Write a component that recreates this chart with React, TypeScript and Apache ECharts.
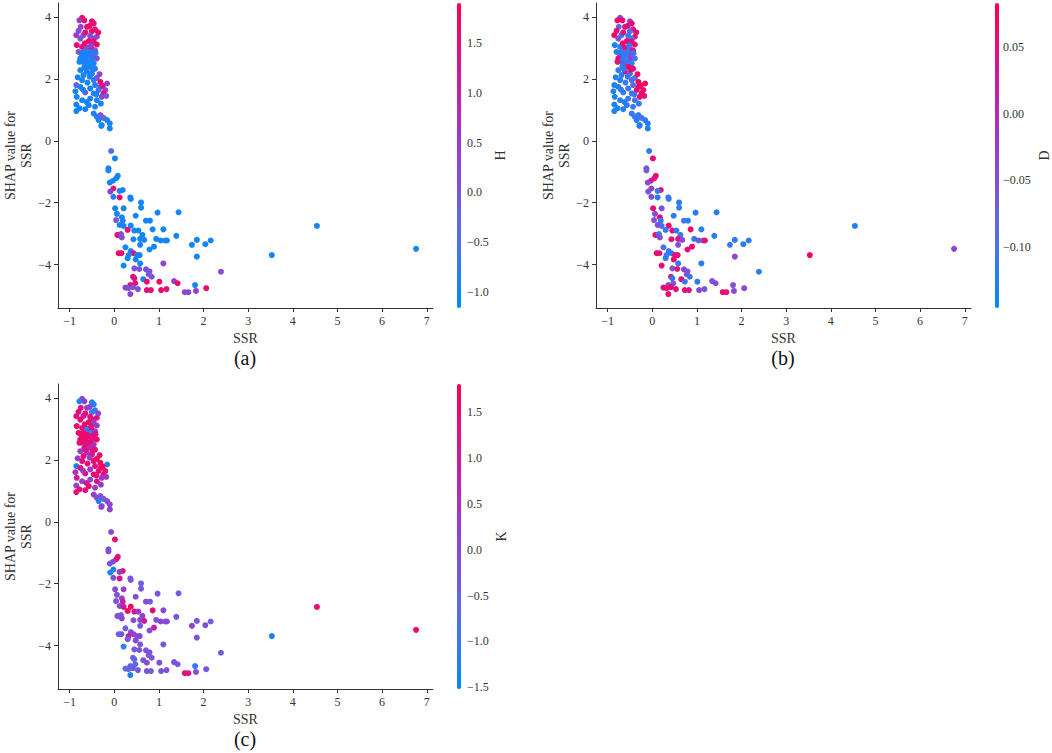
import React, { useEffect, useRef } from "react";
import * as echarts from "echarts";

// ---------- data ----------
const ssrValues: number[] = [
  -0.72, -0.67, -0.78, -0.5, -0.46, -0.55, -0.75, -0.61, -0.43, -0.5,
  -0.85, -0.69, -0.54, -0.39, -0.76, -0.46, -0.57, -0.46, -0.39, -0.84,
  -0.72, -0.61, -0.5, -0.8, -0.69, -0.54, -0.43, -0.72, -0.57, -0.46,
  -0.76, -0.65, -0.5, -0.39, -0.7, -0.61, -0.46, -0.67, -0.54, -0.43,
  -0.76, -0.61, -0.5, -0.69, -0.55, -0.39, -0.72, -0.46, -0.31, -0.85,
  -0.76, -0.43, -0.31, -0.16, -0.54, -0.35, -0.2, -0.87, -0.65, -0.46,
  -0.24, -0.84, -0.28, -0.18, -0.72, -0.54, -0.39, -0.85, -0.57, -0.43,
  -0.85, -0.65, -0.46, -0.39, -0.31, -0.24, -0.35, -0.16, -0.28, -0.1,
  -0.1, -0.29,
  -0.8, -0.65, -0.36, -0.66, -0.52, -0.42, -0.63, -0.78, -0.56, -0.64,
  -0.48, -0.33, -0.82, -0.6, -0.26, -0.7, -0.4, -0.62, -0.3, -0.78,
  -0.07, 0.015, -0.13, -0.13, 0.08, 0.045, -0.03, -0.1, -0.02, -0.09,
  0.19, 0.12, -0.02, 0.12, 0.36, 0.37, 0.6, 0.6, 0.02, 0.21,
  0.97, 1.44, 0.06, 0.17, 0.04, 0.19, 0.48, 0.71, 0.8, 0.12,
  0.21, 0.37, 0.86, 1.1, 0.3, 0.45, 0.54, 0.07, 0.1, 0.15,
  0.17, 0.63, 1.39, 0.43, 0.58, 0.67, 0.94, 1.04, 1.14, 1.18,
  1.85, 2.04, 2.16, 1.74, 0.58, 0.89, 0.25, 0.79, 0.1, 0.16,
  0.37, 0.43, 0.32, 0.51, 0.57, 1.85, 0.3, 0.48, 0.58, 0.21,
  1.1, 0.45, 0.56, 0.71, 0.79, 2.39, 0.77, 0.84, 0.42, 0.45,
  0.65, 0.73, 1.01, 1.34, 1.42, 1.81, 0.47, 0.36, 0.42, 0.25,
  0.32, 0.53, 0.73, 0.82, 1.05, 1.17, 2.06, 1.58, 1.66, 1.83,
  0.36,
  3.53, 4.54, 6.76,
];

const shapValues: number[] = [
  3.97, 3.89, 3.89, 3.86, 3.79, 3.71, 3.68, 3.68, 3.6, 3.54,
  3.41, 3.41, 3.39, 3.36, 3.3, 3.3, 3.22, 3.2, 3.11, 3.09,
  3.03, 3.0, 2.98, 2.87, 2.87, 2.87, 2.92, 2.76, 2.76, 2.78,
  2.66, 2.66, 2.64, 2.66, 2.55, 2.5, 2.5, 2.39, 2.39, 2.33,
  2.28, 2.23, 2.17, 2.12, 2.07, 2.03, 1.96, 1.96, 1.9, 1.8,
  1.74, 1.8, 1.74, 1.85, 1.69, 1.64, 1.64, 1.6, 1.56, 1.53,
  1.53, 1.42, 1.42, 1.45, 1.31, 1.36, 1.31, 1.17, 1.15, 1.1,
  0.96, 1.02, 0.88, 0.78, 0.83, 0.74, 0.67, 0.67, 0.51, 0.56,
  0.4, 0.48,
  3.55, 3.5, 3.5, 3.15, 3.08, 2.83, 2.82, 2.55, 2.57, 2.32,
  2.3, 2.15, 2.05, 1.88, 1.78, 1.65, 1.5, 1.25, 1.2, 1.05,
  -0.33, -0.57, -0.89, -0.96, -1.13, -1.21, -1.29, -1.35, -1.54, -1.64,
  -1.59, -1.62, -1.81, -1.83, -1.83, -1.88, -1.99, -2.16, -2.18, -2.18,
  -2.32, -2.31, -2.36, -2.47, -2.56, -2.58, -2.42, -2.58, -2.58, -2.72,
  -2.75, -2.74, -2.86, -2.86, -2.88, -2.9, -2.9, -3.04, -3.04, -3.01,
  -3.12, -3.04, -3.07, -3.18, -3.17, -3.2, -3.17, -3.22, -3.22, -3.22,
  -3.2, -3.34, -3.22, -3.36, -3.36, -3.42, -3.44, -3.51, -3.63, -3.63,
  -3.56, -3.63, -3.69, -3.69, -3.69, -3.74, -3.79, -3.83, -3.96, -4.03,
  -3.96, -4.12, -4.14, -4.15, -4.22, -4.23, -4.31, -4.39, -4.39, -4.44,
  -4.47, -4.55, -4.55, -4.53, -4.6, -4.66, -4.6, -4.66, -4.73, -4.74,
  -4.76, -4.79, -4.82, -4.82, -4.82, -4.79, -4.76, -4.89, -4.89, -4.85,
  -4.95,
  -3.69, -2.75, -3.49,
];

const hValues: number[] = [
  1.8, 1.6, 0.6, 1.7, 1.5, 1.8, 0.4, 1.6, 1.4, 1.7,
  0.5, 0.2, 0.3, 0.4, 0.1, 0.3, 1.7, 1.5, 1.8, 1.6,
  1.4, 0.2, 1.6, 0.0, -0.9, -1.0, 0.1, -1.0, -0.8, 0.0,
  -1.0, -0.9, -1.0, 0.2, -1.0, -0.8, -1.0, -0.9, -1.0, -0.8,
  -1.0, -1.0, -0.9, -1.0, -0.9, 0.2, -1.0, -0.8, 1.6, -0.1,
  -1.0, -0.9, 0.4, 0.3, -1.0, -0.7, 0.5, -1.0, 0.0, -0.9,
  1.5, -1.0, 0.3, 0.1, -1.0, -0.9, -1.0, -1.0, -0.9, -1.0,
  -1.0, -1.0, -0.9, -1.0, 0.0, -0.1, -1.0, -0.9, -1.0, -1.0,
  -1.0, -1.0,
  0.3, 1.5, 1.6, 1.6, 0.4, -0.9, -1.0, -1.0, -1.0, -1.0,
  -0.9, 0.3, -1.0, -1.0, 1.4, -1.0, -1.0, -1.0, -0.9, -1.0,
  -0.5, -1.0, -1.0, -0.9, -1.0, -1.0, -1.0, -1.0, 1.6, 0.3,
  -1.0, -1.0, -0.9, 1.5, -1.0, -1.0, -1.0, -1.0, -1.0, -0.9,
  -1.0, -1.0, -1.0, -0.9, 0.0, -1.0, -1.0, -1.0, -1.0, -1.0,
  -1.0, -1.0, -1.0, -1.0, 1.6, -1.0, -1.0, 1.7, 1.5, 0.3,
  0.2, -1.0, -1.0, -1.0, -1.0, -0.9, -1.0, -1.0, -1.0, -1.0,
  -1.0, -1.0, -1.0, -1.0, -1.0, -1.0, -1.0, -1.0, 1.7, 1.6,
  -1.0, 1.5, -1.0, -1.0, -1.0, -1.0, -1.0, -1.0, -1.0, -1.0,
  0.3, 0.2, 0.0, 0.1, 0.2, 0.3, 0.0, 0.1, 1.6, 1.5,
  -0.9, 1.6, 1.7, 0.4, 1.6, -1.0, 1.5, 1.7, 0.2, 0.3,
  0.1, 0.2, 1.6, 1.5, 1.7, 1.5, 1.6, 0.3, 0.2, 0.4,
  0.3,
  -1.0, -1.0, -1.0,
];

const dValues: number[] = [
  -0.04, 0.06, 0.07, -0.03, 0.06, 0.05, -0.07, 0.05, 0.06, -0.1,
  0.07, -0.12, -0.11, 0.05, -0.05, -0.1, 0.06, 0.05, 0.07, -0.13,
  -0.12, 0.05, -0.11, -0.12, -0.1, -0.11, 0.04, -0.12, -0.1, -0.04,
  0.06, -0.11, -0.03, -0.1, -0.12, -0.05, -0.11, -0.12, 0.07, 0.06,
  -0.12, 0.05, -0.1, -0.12, -0.11, -0.09, -0.12, -0.1, 0.07, -0.13,
  -0.12, -0.1, 0.06, 0.08, -0.11, 0.07, 0.06, -0.13, -0.11, -0.1,
  0.07, -0.13, 0.06, 0.05, -0.12, -0.11, -0.1, -0.13, -0.12, -0.11,
  -0.13, -0.12, -0.11, -0.12, -0.11, -0.1, -0.12, -0.12, -0.12, -0.12,
  -0.13, -0.12,
  0.06, 0.05, 0.06, 0.06, -0.1, -0.11, -0.12, 0.05, -0.11, -0.12,
  0.06, 0.07, -0.12, -0.11, 0.07, -0.12, -0.11, -0.12, -0.11, -0.13,
  -0.12, 0.06, -0.05, -0.07, 0.06, 0.05, 0.04, -0.04, -0.03, -0.05,
  0.06, -0.11, -0.05, -0.12, -0.12, -0.11, -0.12, -0.11, 0.06, -0.05,
  -0.12, -0.12, -0.04, 0.06, -0.05, -0.11, -0.12, -0.11, -0.12, -0.04,
  -0.1, 0.06, 0.07, -0.12, -0.11, 0.06, -0.12, 0.06, 0.05, -0.11,
  -0.05, -0.11, -0.12, 0.06, 0.05, -0.04, -0.12, -0.05, -0.05, 0.05,
  -0.12, -0.12, -0.12, -0.11, -0.05, 0.06, -0.1, 0.06, 0.06, 0.05,
  -0.11, -0.12, -0.11, 0.06, 0.05, -0.04, -0.12, 0.06, -0.11, 0.06,
  -0.12, -0.05, 0.05, -0.04, -0.05, -0.12, -0.05, -0.11, 0.06, -0.12,
  0.05, -0.11, -0.12, -0.05, -0.04, -0.05, -0.05, -0.04, 0.06, 0.05,
  0.06, 0.05, 0.06, 0.05, -0.04, -0.05, -0.04, 0.06, 0.05, -0.04,
  0.06,
  0.07, -0.12, -0.03,
];

const kValues: number[] = [
  0.1, 0.3, -1.3, -1.2, -1.2, 0.0, 1.2, 0.2, -1.1, -1.0,
  1.4, 0.9, 1.3, 1.5, 1.4, 1.2, 1.5, 0.2, 0.3, 1.5,
  1.3, -1.2, 1.4, 1.6, 1.5, -1.1, 0.4, 1.6, 1.4, 1.2,
  1.6, 1.5, 1.1, 1.6, 1.4, 1.2, 0.5, 1.3, 0.6, 1.5,
  0.3, 0.2, 1.4, 1.5, 0.2, 1.5, 1.3, 1.6, 1.7, -1.3,
  1.5, 1.4, 1.2, -1.2, 0.3, 1.5, 1.6, 0.4, 1.3, 1.5,
  1.4, 1.1, 0.5, 0.3, 0.2, 0.0, 1.2, 0.1, 1.4, 0.3,
  1.5, 1.3, 0.2, 0.1, -0.1, -0.4, -1.1, 0.0, -1.0, 0.1,
  0.2, 0.3,
  1.4, 1.3, 0.2, 1.6, 1.5, 1.3, 1.6, 1.4, 1.5, 1.2,
  1.4, 1.6, 0.2, 1.5, 1.7, 0.4, 1.3, 1.2, 0.3, 1.4,
  0.0, 1.4, -0.2, -0.1, 1.5, 1.3, 0.1, -0.2, -1.3, -1.2,
  1.4, 0.2, -0.1, 1.2, -0.3, -0.2, -0.4, -0.3, 0.0, 0.2,
  -0.2, -0.4, -0.1, 0.1, -0.2, 0.9, -0.1, 0.0, -0.3, -0.2,
  1.2, 1.5, 1.4, 0.1, 1.6, 1.3, 0.3, 0.0, -0.2, -0.3,
  0.1, 0.2, -0.2, -0.1, 0.0, 1.0, -0.3, 0.1, -0.2, 0.0,
  -0.3, -0.1, -0.4, 0.2, -0.3, 0.9, -0.4, 0.0, -0.5, -0.4,
  -0.2, 0.3, 1.0, -0.1, 0.1, -0.2, -0.3, 0.0, -0.2, -1.0,
  -0.3, -0.4, -0.2, -0.1, 0.0, -0.3, -0.3, -0.2, -0.4, -0.5,
  -0.3, -0.1, 0.0, -0.2, -0.3, -1.1, -0.6, -0.5, -0.4, -0.6,
  -0.5, -0.3, -0.2, -0.4, -0.3, -0.1, -0.2, 1.4, 1.2, 0.0,
  -1.2,
  -1.3, 1.5, 1.6,
];

const xTicks: number[] = [-1, 0, 1, 2, 3, 4, 5, 6, 7];
const yTicks: number[] = [-4, -2, 0, 2, 4];
const hTicks: number[] = [-1, -0.5, 0, 0.5, 1, 1.5];
const dTicks: number[] = [-0.1, -0.05, 0, 0.05];
const kTicks: number[] = [-1.5, -1, -0.5, 0, 0.5, 1, 1.5];

const panelLabels: string[] = ["(a)", "(b)", "(c)"];
const featureNames: string[] = ["H", "D", "K"];
const colorRanges: [number, number][] = [
  [-1.16, 1.9],
  [-0.146, 0.083],
  [-1.52, 1.81],
];
const colorTicks: number[][] = [hTicks, dTicks, kTicks];
const colorDecimals: number[] = [1, 2, 1];
const colorValues: number[][] = [hValues, dValues, kValues];

// ---------- layout ----------
const FONT = "'Liberation Serif', 'Times New Roman', serif";
const AXIS = "#333333";
const panelPos = [
  { left: 58, top: 3 },
  { left: 596, top: 3 },
  { left: 58, top: 384 },
];
const PW = 375;
const PH = 305;
const CB_OFFSET = 399; // colorbar left relative to panel left
const CB_W = 4;
const cbNameGap = [32, 40, 33];
const COLORS = ["#008bfb", "#5a6cea", "#9143d0", "#cc1aa0", "#ff0052"];

const minus = (s: string) => s.replace("-", "\u2212");

export default function App() {
  const ref = useRef<HTMLDivElement>(null);

  useEffect(() => {
    if (!ref.current) return;
    const chart = echarts.init(ref.current, undefined, { renderer: "svg" });

    const grids: any[] = [];
    const xAxes: any[] = [];
    const yAxes: any[] = [];
    const series: any[] = [];
    const visualMaps: any[] = [];
    const graphics: any[] = [];

    panelPos.forEach((p, i) => {
      grids.push({ left: p.left, top: p.top, width: PW, height: PH, containLabel: false });
      xAxes.push({
        type: "value",
        gridIndex: i,
        min: -1.26,
        max: 7.14,
        splitLine: { show: false },
        axisLine: { onZero: false, lineStyle: { color: AXIS, width: 1 } },
        axisTick: { customValues: xTicks, length: 4, lineStyle: { color: AXIS } },
        axisLabel: {
          customValues: xTicks,
          color: AXIS,
          fontSize: 12,
          fontFamily: FONT,
          margin: 7,
          formatter: (v: number) => minus(String(v)),
        },
        name: "SSR",
        nameLocation: "middle",
        nameGap: 23,
        nameTextStyle: { color: AXIS, fontSize: 14, fontFamily: FONT },
      });
      yAxes.push({
        type: "value",
        gridIndex: i,
        min: -5.4,
        max: 4.45,
        splitLine: { show: false },
        axisLine: { show: true, onZero: false, lineStyle: { color: AXIS, width: 1 } },
        axisTick: { show: true, customValues: yTicks, length: 4, lineStyle: { color: AXIS } },
        axisLabel: {
          customValues: yTicks,
          color: AXIS,
          fontSize: 12,
          fontFamily: FONT,
          margin: 7,
          formatter: (v: number) => minus(String(v)),
        },
        name: "SHAP value for\nSSR",
        nameLocation: "middle",
        nameRotate: 90,
        nameGap: 24,
        nameTextStyle: { color: AXIS, fontSize: 14, fontFamily: FONT, lineHeight: 16 },
      });
      const pts = ssrValues.map((x, j) => [x, shapValues[j], colorValues[i][j]]);
      series.push({
        type: "scatter",
        xAxisIndex: i,
        yAxisIndex: i,
        data: pts,
        symbolSize: 6,
        itemStyle: { opacity: 1 },
        silent: true,
      });
      visualMaps.push({
        type: "continuous",
        seriesIndex: i,
        dimension: 2,
        min: colorRanges[i][0],
        max: colorRanges[i][1],
        inRange: { color: COLORS },
        calculable: false,
        orient: "vertical",
        left: p.left + CB_OFFSET,
        top: p.top,
        itemWidth: CB_W,
        itemHeight: PH,
        padding: 0,
        text: null,
        hoverLink: false,
      });
      graphics.push({
        type: "text",
        x: p.left + 187,
        y: p.top + 355,
        style: {
          text: panelLabels[i],
          fontSize: 20,
          fontFamily: FONT,
          fill: "#111111",
          align: "center",
          verticalAlign: "middle",
        },
      });
    });

    // colorbar axes
    panelPos.forEach((p, i) => {
      const gi = 3 + i;
      grids.push({ left: p.left + CB_OFFSET, top: p.top, width: CB_W, height: PH });
      xAxes.push({ type: "value", gridIndex: gi, show: false, min: 0, max: 1 });
      const dec = colorDecimals[i];
      yAxes.push({
        type: "value",
        gridIndex: gi,
        position: "right",
        min: colorRanges[i][0],
        max: colorRanges[i][1],
        splitLine: { show: false },
        axisLine: { show: false },
        axisTick: { show: true, customValues: colorTicks[i], length: 3, lineStyle: { color: AXIS } },
        axisLabel: {
          show: true,
          customValues: colorTicks[i],
          color: AXIS,
          fontSize: 12,
          fontFamily: FONT,
          margin: 6,
          formatter: (v: number) => minus(v.toFixed(dec)),
        },
        name: featureNames[i],
        nameLocation: "middle",
        nameRotate: 90,
        nameGap: cbNameGap[i],
        nameTextStyle: { color: AXIS, fontSize: 14, fontFamily: FONT },
      });
    });

    chart.setOption({
      animation: false,
      textStyle: { fontFamily: FONT },
      grid: grids,
      xAxis: xAxes,
      yAxis: yAxes,
      visualMap: visualMaps,
      series,
      graphic: graphics,
    });

    return () => chart.dispose();
  }, []);

  return (
    <div
      ref={ref}
      style={{ position: "fixed", left: 0, top: 0, width: 1052, height: 753, background: "#ffffff" }}
    />
  );
}
